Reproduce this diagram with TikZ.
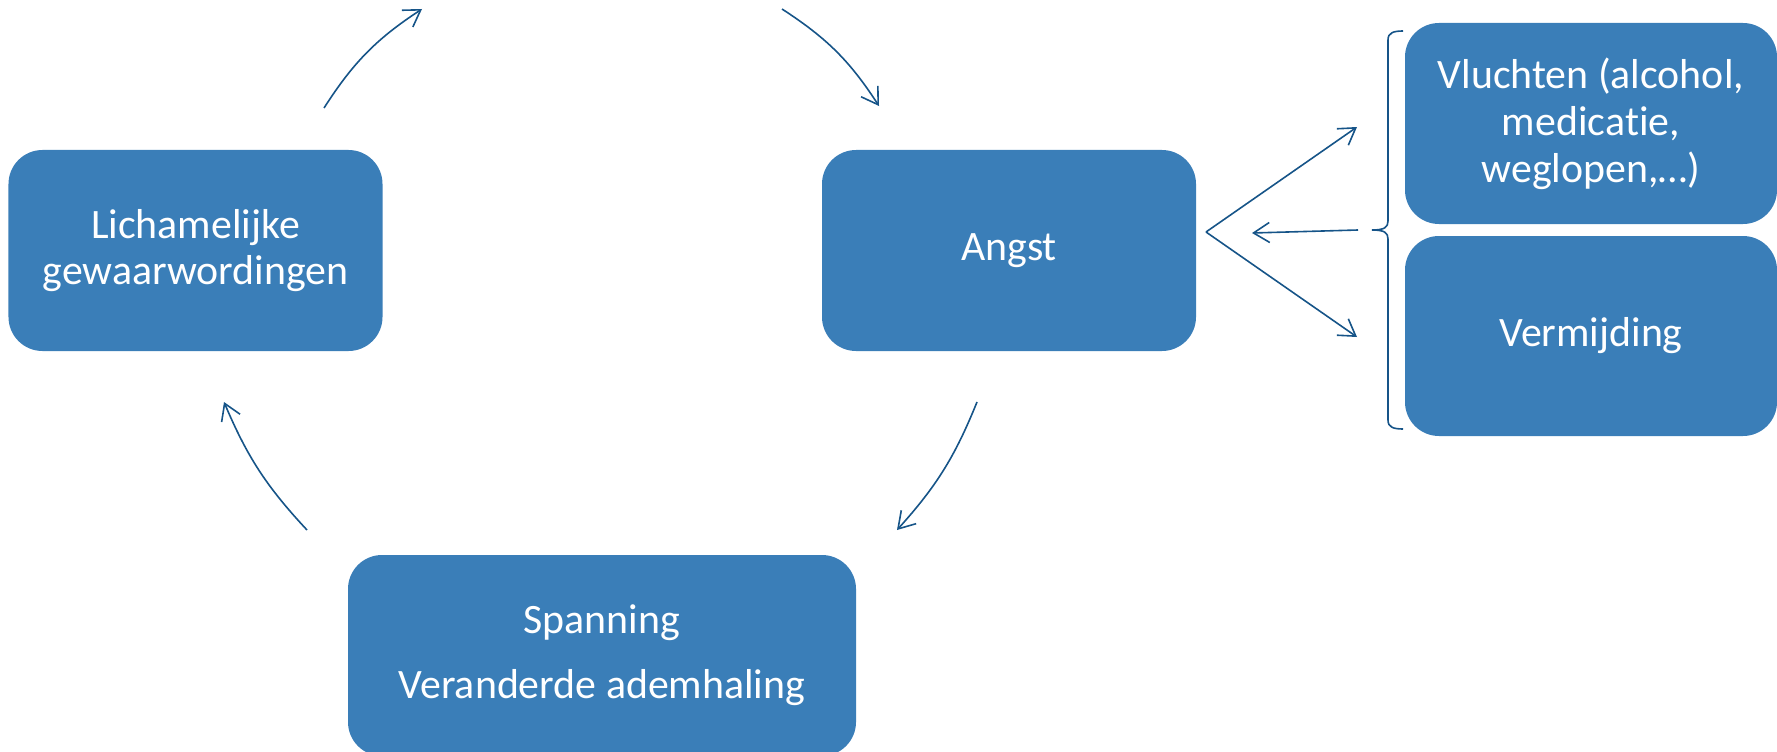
\documentclass[tikz,border=0pt]{standalone}
\usepackage{fontspec}
\setmainfont{Carlito}[Ligatures={NoCommon,NoRare,NoDiscretionary}]
\usetikzlibrary{arrows.meta}
\definecolor{boxblue}{RGB}{58,126,184}
\definecolor{linkblue}{RGB}{22,84,136}
\begin{document}
\begin{tikzpicture}[x=1bp,y=-1bp,
  box/.style={fill=boxblue, rounded corners=34bp, text=white, align=center,
    font=\fontsize{42}{47}\selectfont, inner sep=0pt},
  link/.style={draw=linkblue, line width=1.6bp, -{Straight Barb[length=16bp,width=20bp]}},
  brk/.style={draw=linkblue, line width=1.6bp}]
\useasboundingbox (0,0) rectangle (1777,752);
\clip (0,0) rectangle (1777,752);
% boxes
\node[box, minimum width=374bp, minimum height=201bp] (lich) at (195.5,250.5) {Lichamelijke\\gewaarwordingen};
\node[box, minimum width=374bp, minimum height=201bp] (angst) at (1009,250.5) {Angst};
\node[box, minimum width=372bp, minimum height=201bp] (vlucht) at (1591,123.5) {Vluchten (alcohol,\\medica\kern0pt tie,\\weglopen,\ldots)};
\node[box, minimum width=372bp, minimum height=200bp] (verm) at (1591,336) {Vermijding};
\node[box, minimum width=508bp, minimum height=201bp] (span) at (602,655.5) {Spanning\\[18bp]Veranderde ademhaling};
% cycle arrow end points
\coordinate (a1s) at (324,108);
\coordinate (a1e) at (422,9);
\coordinate (a2s) at (782,9);
\coordinate (a2e) at (879,106);
\coordinate (a3s) at (977,402);
\coordinate (a3e) at (897,530);
\coordinate (a4s) at (307,530);
\coordinate (a4e) at (224,402);
\draw[link] (a1s) to[bend left=12] (a1e);
\draw[link] (a2s) to[bend left=12] (a2e);
\draw[link] (a3s) to[bend left=10] (a3e);
\draw[link] (a4s) to[bend left=10] (a4e);
% branching arrows
\coordinate (v) at (1206,232);
\coordinate (up) at (1357,127);
\coordinate (dn) at (1357,337);
\coordinate (ms) at (1358,230);
\coordinate (me) at (1252,233);
\draw[link] (v) -- (up);
\draw[link] (v) -- (dn);
\draw[link] (ms) -- (me);
% bracket
\draw[brk] (1403,31) .. controls (1393,31) and (1388,33) .. (1388,40) -- (1388,221)
  .. controls (1388,227) and (1385,230) .. (1372,230)
  .. controls (1385,230) and (1388,233) .. (1388,239) -- (1388,420)
  .. controls (1388,427) and (1393,429) .. (1403,429);
\end{tikzpicture}
\end{document}
